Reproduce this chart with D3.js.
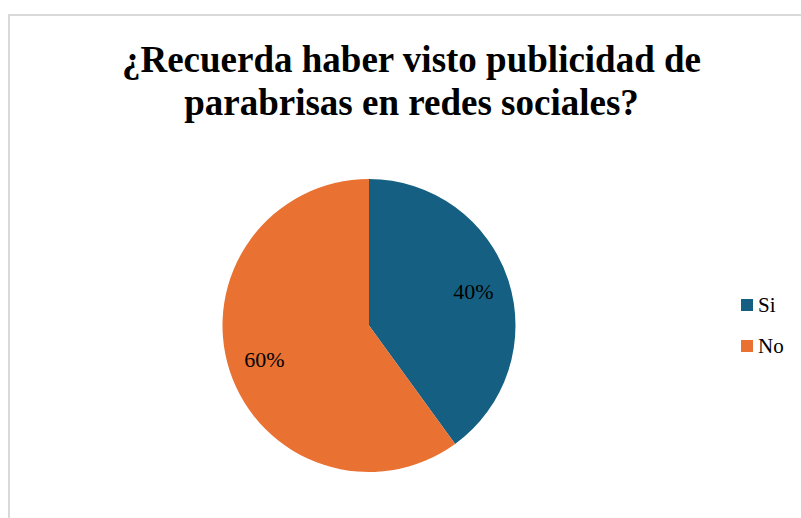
<!DOCTYPE html>
<html>
<head>
<meta charset="utf-8">
<script src="https://cdn.jsdelivr.net/npm/d3@7"></script>
<style>
  body { margin: 0; background: #fff; }
  svg { display: block; }
</style>
</head>
<body>
<svg id="chart" width="801" height="518"></svg>
<script>
const categories = ['Si', 'No'];
const values = [40, 60];
const colors = ['#156082', '#E97132'];
const titleLines = ['¿Recuerda haber visto publicidad de', 'parabrisas en redes sociales?'];

const svg = d3.select('#chart');
const width = 801;
const height = 518;

// chart frame (runs off the right and bottom edges)
svg.append('rect')
  .attr('x', 9)
  .attr('y', 15)
  .attr('width', width + 10)
  .attr('height', height + 10)
  .attr('fill', '#fff')
  .attr('stroke', '#d9d9d9')
  .attr('stroke-width', 2);

// title
svg.append('g')
  .selectAll('text')
  .data(titleLines)
  .join('text')
  .attr('x', 411.5)
  .attr('y', (d, i) => 72 + i * 43)
  .attr('text-anchor', 'middle')
  .attr('font-family', '"Liberation Serif", "Times New Roman", serif')
  .attr('font-weight', 'bold')
  .attr('font-size', 37)
  .attr('fill', '#000')
  .text(d => d);

const cx = 369, cy = 325.5, r = 146.5;
const data = categories.map((c, i) => ({ name: c, value: values[i], color: colors[i] }));

const pie = d3.pie().sort(null).value(d => d.value);
const arc = d3.arc().innerRadius(0).outerRadius(r);
const labelArc = d3.arc().innerRadius(r * 0.75).outerRadius(r * 0.75);

const g = svg.append('g').attr('transform', `translate(${cx},${cy})`);
const arcs = pie(data);

g.selectAll('path')
  .data(arcs)
  .join('path')
  .attr('d', arc)
  .attr('fill', d => d.data.color);

g.selectAll('text')
  .data(arcs)
  .join('text')
  .attr('transform', d => `translate(${labelArc.centroid(d)})`)
  .attr('text-anchor', 'middle')
  .attr('dy', '0.35em')
  .attr('font-family', '"Liberation Serif", "Times New Roman", serif')
  .attr('font-size', 22)
  .attr('fill', '#000')
  .text(d => d.data.value + '%');

// legend
const legend = svg.append('g').attr('transform', 'translate(741,299)');
const item = legend.selectAll('g')
  .data(data)
  .join('g')
  .attr('transform', (d, i) => `translate(0,${i * 41})`);

item.append('rect')
  .attr('width', 12)
  .attr('height', 12)
  .attr('fill', d => d.color);

item.append('text')
  .attr('x', 17)
  .attr('y', 13)
  .attr('font-family', '"Liberation Serif", "Times New Roman", serif')
  .attr('font-size', 21)
  .attr('fill', '#000')
  .text(d => d.name);
</script>
</body>
</html>
